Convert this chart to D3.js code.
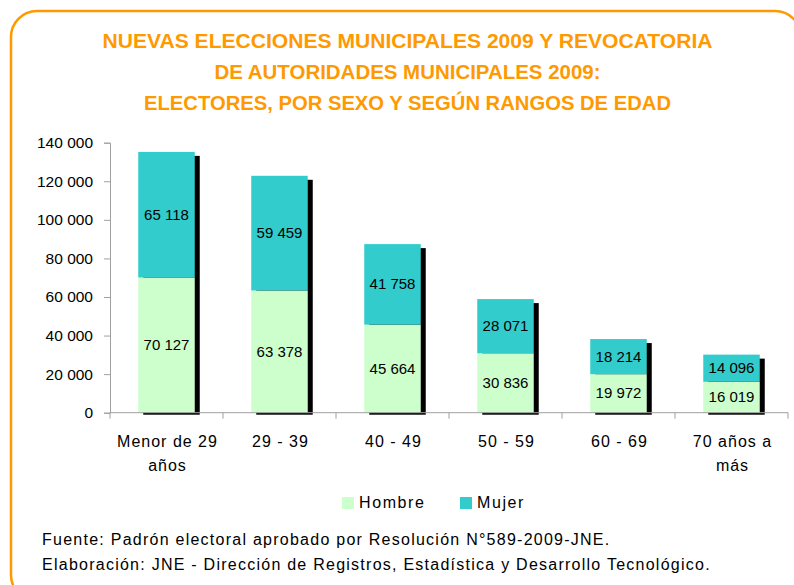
<!DOCTYPE html>
<html>
<head>
<meta charset="utf-8">
<script src="https://cdn.jsdelivr.net/npm/d3@7"></script>
<style>
  body { margin: 0; background: #fff; }
  text { font-family: "Liberation Sans", Arial, sans-serif; }
</style>
</head>
<body>
<script>
var width = 794,
    height = 585;

// data
var categories = ["Menor de 29|años", "29 - 39", "40 - 49", "50 - 59", "60 - 69", "70 años a|más"];
var hombre = [70127, 63378, 45664, 30836, 19972, 16019];
var mujer = [65118, 59459, 41758, 28071, 18214, 14096];
var seriesNames = ["Hombre", "Mujer"];
var seriesColors = ["#CCFFCC", "#33CCCC"];
var yTicks = [0, 20000, 40000, 60000, 80000, 100000, 120000, 140000];
var titleLines = [
  "NUEVAS ELECCIONES MUNICIPALES 2009 Y REVOCATORIA",
  "DE AUTORIDADES MUNICIPALES 2009:",
  "ELECTORES, POR SEXO Y SEGÚN RANGOS DE EDAD"
];
var notes = [
  "Fuente: Padrón electoral aprobado por Resolución N°589-2009-JNE.",
  "Elaboración: JNE - Dirección de Registros, Estadística y Desarrollo Tecnológico."
];

var margin = {left: 110, right: 6, top: 142.7, bottom: 172.3};

var svg = d3.select("body").append("svg")
    .attr("width", width)
    .attr("height", height);

// orange rounded frame
svg.append("rect")
    .attr("x", 11)
    .attr("y", 11)
    .attr("width", 790)
    .attr("height", 590)
    .attr("rx", 26)
    .attr("fill", "none")
    .attr("stroke", "#FF9900")
    .attr("stroke-width", 2.5);

// title
var titleWidths = [610, 386, 527];
svg.selectAll("text.title")
    .data(titleLines)
    .enter().append("text")
    .attr("class", "title")
    .attr("x", 407.5)
    .attr("y", function (d, i) { return 48 + i * 31; })
    .attr("text-anchor", "middle")
    .attr("font-size", 20)
    .attr("font-weight", "bold")
    .attr("fill", "#FF9900")
    .attr("textLength", function (d, i) { return titleWidths[i]; })
    .attr("lengthAdjust", "spacingAndGlyphs")
    .text(function (d) { return d; });

var x = d3.scaleBand()
    .domain(categories)
    .range([margin.left, width - margin.right])
    .paddingInner(0.5)
    .paddingOuter(0.25);

var y = d3.scaleLinear()
    .domain([0, 140000])
    .range([height - margin.bottom, margin.top]);

var fmt = function (v) { return d3.format(",")(v).replace(/,/g, " "); };

var stacked = d3.stack().keys([0, 1])(categories.map(function (c, i) {
  return [hombre[i], mujer[i]];
}));

var g = svg.append("g");

// shadows
g.selectAll("rect.shadow")
    .data(categories)
    .enter().append("rect")
    .attr("class", "shadow")
    .attr("x", function (d) { return x(d) + 5; })
    .attr("y", function (d, i) { return y(hombre[i] + mujer[i]) + 4; })
    .attr("width", x.bandwidth())
    .attr("height", function (d, i) { return y(0) - y(hombre[i] + mujer[i]) - 2; })
    .attr("fill", "#000");

// stacked segments
stacked.forEach(function (layer, k) {
  g.selectAll("rect.s" + k)
      .data(layer)
      .enter().append("rect")
      .attr("class", "s" + k)
      .attr("x", function (d, i) { return x(categories[i]); })
      .attr("y", function (d) { return y(d[1]); })
      .attr("width", x.bandwidth())
      .attr("height", function (d) { return y(d[0]) - y(d[1]); })
      .attr("fill", seriesColors[k]);

  g.selectAll("text.v" + k)
      .data(layer)
      .enter().append("text")
      .attr("class", "v" + k)
      .attr("x", function (d, i) { return x(categories[i]) + x.bandwidth() / 2; })
      .attr("y", function (d) { return (y(d[0]) + y(d[1])) / 2 + 5; })
      .attr("text-anchor", "middle")
      .attr("font-size", 15)
      .attr("fill", "#000")
      .text(function (d) { return fmt(d[1] - d[0]); });
});

// y axis
var yAxis = svg.append("g")
    .attr("transform", "translate(" + margin.left + ",0)")
    .call(d3.axisLeft(y).tickValues(yTicks).tickFormat(fmt).tickSize(6).tickPadding(11));
yAxis.selectAll("path, line").attr("stroke", "#A0A0A0");
yAxis.selectAll("text")
    .attr("font-size", 15.5)
    .attr("fill", "#000")
    .attr("font-family", "'Liberation Sans', Arial, sans-serif");

// x axis line with ticks at category boundaries
var x0 = margin.left, x1 = width - margin.right, step = (x1 - x0) / categories.length;
var xg = svg.append("g");
xg.append("line")
    .attr("x1", x0).attr("x2", x1)
    .attr("y1", y(0)).attr("y2", y(0))
    .attr("stroke", "#A0A0A0");
xg.selectAll("line.tick")
    .data(d3.range(categories.length + 1))
    .enter().append("line")
    .attr("class", "tick")
    .attr("x1", function (i) { return x0 + i * step; })
    .attr("x2", function (i) { return x0 + i * step; })
    .attr("y1", y(0))
    .attr("y2", y(0) + 6)
    .attr("stroke", "#A0A0A0");

var labels = xg.selectAll("text.cat")
    .data(categories)
    .enter().append("text")
    .attr("class", "cat")
    .attr("text-anchor", "middle")
    .attr("font-size", 16)
    .attr("letter-spacing", 1)
    .attr("fill", "#000");
labels.each(function (d) {
  var t = d3.select(this);
  d.split("|").forEach(function (line, j) {
    t.append("tspan")
        .attr("x", x(d) + x.bandwidth() / 2 + 1)
        .attr("y", 447 + j * 24)
        .text(line);
  });
});

// legend
var legendX = [342, 460];
seriesNames.forEach(function (name, k) {
  svg.append("rect")
      .attr("x", legendX[k])
      .attr("y", 497)
      .attr("width", 12)
      .attr("height", 12)
      .attr("fill", seriesColors[k]);
  svg.append("text")
      .attr("x", legendX[k] + 17)
      .attr("y", 508)
      .attr("font-size", 16)
      .attr("letter-spacing", 1.6)
      .attr("fill", "#000")
      .text(name);
});

// footnotes
svg.selectAll("text.note")
    .data(notes)
    .enter().append("text")
    .attr("class", "note")
    .attr("x", 42)
    .attr("y", function (d, i) { return 545 + i * 25; })
    .attr("font-size", 16)
    .attr("letter-spacing", 1.25)
    .attr("fill", "#000")
    .text(function (d) { return d; });
</script>
</body>
</html>
